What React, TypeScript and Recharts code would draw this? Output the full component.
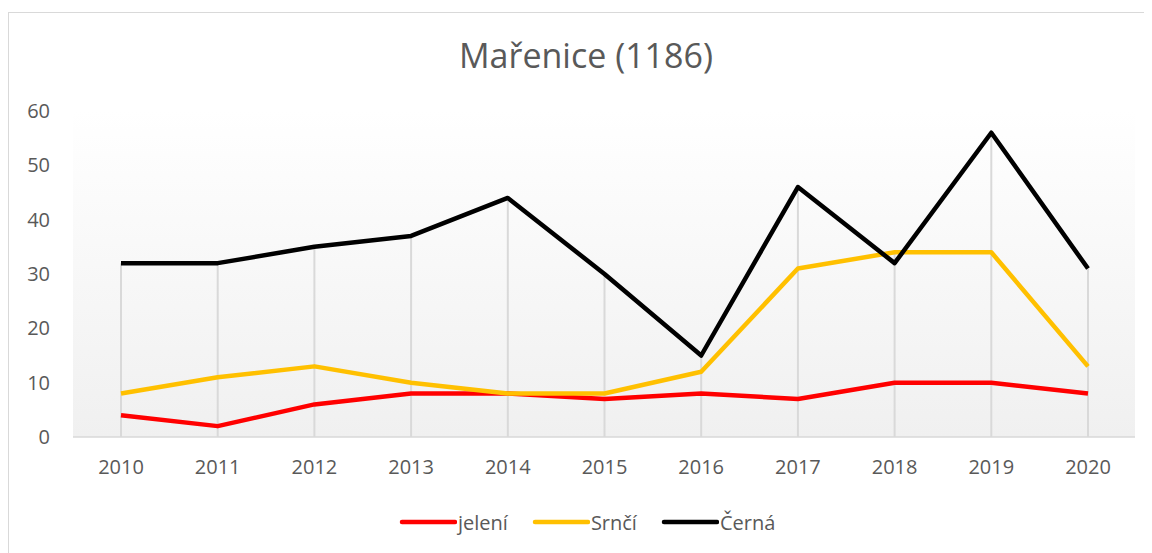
import React from 'react';
import { LineChart, Line, XAxis, YAxis, CartesianGrid, ReferenceLine } from 'recharts';

const years = ['2010', '2011', '2012', '2013', '2014', '2015', '2016', '2017', '2018', '2019', '2020'];
const jeleni = [4, 2, 6, 8, 8, 7, 8, 7, 10, 10, 8];
const srnci = [8, 11, 13, 10, 8, 8, 12, 31, 34, 34, 13];
const cerna = [32, 32, 35, 37, 44, 30, 15, 46, 32, 56, 31];
const yTicks = [0, 10, 20, 30, 40, 50, 60];

const seriesInfo = [
  { key: 'jeleni', name: 'jelení', color: '#ff0000' },
  { key: 'srnci', name: 'Srnčí', color: '#ffc000' },
  { key: 'cerna', name: 'Černá', color: '#000000' },
];

const data = years.map((y, i) => ({
  year: y,
  jeleni: jeleni[i],
  srnci: srnci[i],
  cerna: cerna[i],
  max: Math.max(jeleni[i], srnci[i], cerna[i]),
}));

const FONT = '"Open Sans", sans-serif';
const TEXT = '#595959';

export default function App() {
  return (
    <div
      style={{
        position: 'relative',
        marginTop: 4,
        width: 1142,
        height: 545,
        border: '1px solid #d9d9d9',
        background: '#ffffff',
        fontFamily: FONT,
      }}
    >
      <div
        style={{
          position: 'absolute',
          left: 577,
          top: 42,
          transform: 'translate(-50%, -50%)',
          fontSize: 34,
          color: TEXT,
          whiteSpace: 'nowrap',
          fontFamily: FONT,
        }}
      >
        Mařenice (1186)
      </div>
      <LineChart
        width={1142}
        height={545}
        data={data}
        margin={{ top: 98, right: 16, bottom: 61, left: 0 }}
        style={{ position: 'absolute', left: 0, top: 0 }}
      >
        <defs>
          <linearGradient id="plotBg" x1="0" y1="0" x2="0" y2="1">
            <stop offset="0%" stopColor="#ffffff" />
            <stop offset="100%" stopColor="#f0f0f0" />
          </linearGradient>
        </defs>
        <CartesianGrid horizontal={false} vertical={false} fill="url(#plotBg)" stroke="none" />
        <XAxis
          dataKey="year"
          padding={{ left: 48, right: 47 }}
          axisLine={{ stroke: '#d9d9d9', strokeWidth: 1.5 }}
          tickLine={false}
          tickSize={6}
          tickMargin={17}
          height={60}
          tick={{ fill: TEXT, fontSize: 20, fontFamily: FONT }}
          interval={0}
        />
        <YAxis
          domain={[0, 60]}
          ticks={yTicks}
          width={64}
          axisLine={false}
          tickLine={false}
          tickSize={6}
          tickMargin={17}
          tick={{ fill: TEXT, fontSize: 20, fontFamily: FONT }}
        />
        {data.map((d) => (
          <ReferenceLine
            key={d.year}
            segment={[
              { x: d.year, y: 0 },
              { x: d.year, y: d.max },
            ]}
            stroke="#d9d9d9"
            strokeWidth={2}
          />
        ))}
        {seriesInfo.map((s) => (
          <Line
            key={s.key}
            type="linear"
            dataKey={s.key}
            name={s.name}
            stroke={s.color}
            strokeWidth={4.5}
            strokeLinejoin="round"
            dot={false}
            activeDot={false}
            isAnimationActive={false}
          />
        ))}
      </LineChart>
      <div
        style={{
          position: 'absolute',
          left: 390,
          top: 494,
          height: 30,
          display: 'flex',
          alignItems: 'center',
          fontSize: 20,
          color: TEXT,
          fontFamily: FONT,
        }}
      >
        {seriesInfo.map((s) => (
          <div key={s.key} style={{ display: 'flex', alignItems: 'center', marginRight: 24 }}>
            <svg width={58} height={10} style={{ marginRight: 1 }}>
              <line x1={3} y1={5} x2={56} y2={5} stroke={s.color} strokeWidth={4.5} strokeLinecap="round" />
            </svg>
            <span>{s.name}</span>
          </div>
        ))}
      </div>
    </div>
  );
}
